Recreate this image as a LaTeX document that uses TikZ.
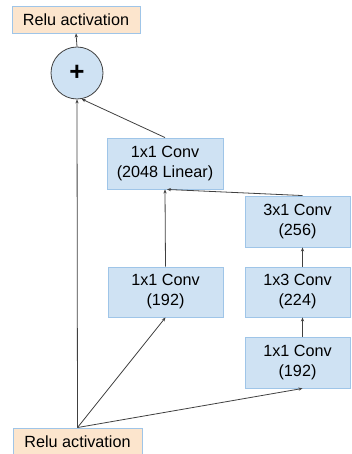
\documentclass[tikz,border=0pt]{standalone}
\usepackage{fontspec}
\setmainfont{Liberation Sans}
\usetikzlibrary{arrows.meta}
\definecolor{boxblue}{HTML}{CFE2F3}
\definecolor{boxedge}{HTML}{9FC5E8}
\definecolor{peach}{HTML}{FCE5CD}
\definecolor{linegray}{HTML}{404040}
\tikzset{
  convbox/.style={draw=boxedge, fill=boxblue, line width=0.9pt, align=center, inner sep=0pt,
    font=\fontsize{16.2}{20}\selectfont},
  relubox/.style={draw=boxedge, fill=peach, line width=0.9pt, inner sep=0pt,
    minimum width=128pt, minimum height=27pt, font=\fontsize{16.2}{20}\selectfont},
  conn/.style={draw=linegray, line width=0.8pt, -{Stealth[length=4pt,width=3.2pt]}}
}
\begin{document}
\begin{tikzpicture}[x=1pt,y=-1pt]
\useasboundingbox (0,0) rectangle (352,454);
\node[relubox] (relutop) at (76,19.5) {Relu activation};
\node[circle, draw=linegray, fill=boxblue, line width=0.8pt, minimum size=52pt, inner sep=0pt,
  font=\fontsize{26}{26}\selectfont\bfseries] (plus) at (77,73) {+};
\node[convbox, minimum width=116pt, minimum height=51pt] (conv2048) at (165,163.5) {1x1 Conv\\(2048 Linear)};
\node[convbox, minimum width=105pt, minimum height=51pt] (conv31) at (297.5,221.5) {3x1 Conv\\(256)};
\node[convbox, minimum width=105pt, minimum height=50pt] (conv13) at (297.5,292) {1x3 Conv\\(224)};
\node[convbox, minimum width=105pt, minimum height=51pt] (conv11r) at (297.5,362.5) {1x1 Conv\\(192)};
\node[convbox, minimum width=115pt, minimum height=50pt] (conv11m) at (165.5,292) {1x1 Conv\\(192)};
\node[relubox, minimum width=129pt] (relubot) at (77.5,441.5) {Relu activation};
% connectors
\draw[conn] (plus.north) -- (relutop.south);
\draw[conn] (relubot.north) -- (plus.south);
\draw[conn] (conv2048.north) -- (plus.-80);
\draw[conn] (conv11m.north) -- (conv2048.south);
\draw[conn] ([xshift=5pt]conv31.north) -- ([xshift=2pt]conv2048.south);
\draw[conn] ([xshift=5pt]conv13.north) -- ([xshift=5pt]conv31.south);
\draw[conn] ([xshift=5pt]conv11r.north) -- ([xshift=5pt]conv13.south);
\draw[conn] (relubot.north) -- (conv11m.south);
\draw[conn] (relubot.north) -- ([xshift=5pt]conv11r.south);
\end{tikzpicture}
\end{document}
